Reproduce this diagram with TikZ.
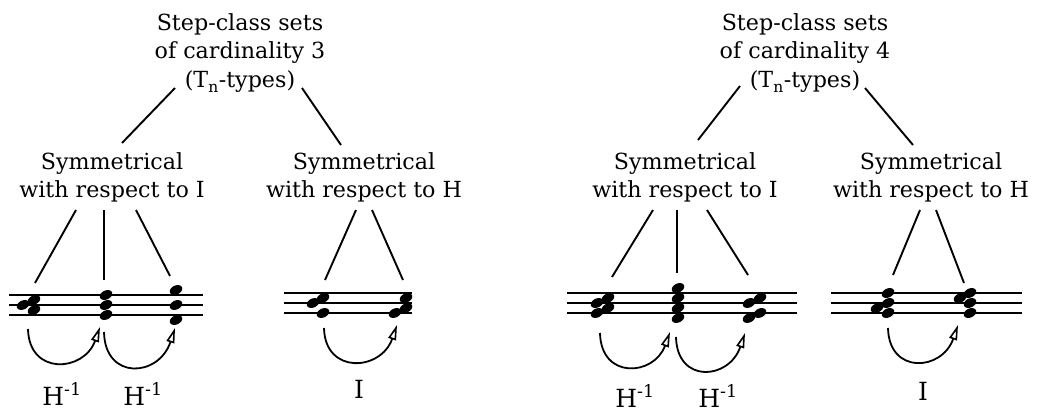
\documentclass[tikz,border=0pt]{standalone}
\usepackage{fontspec}
\setmainfont{DejaVu Serif}
\usetikzlibrary{arrows.meta}
\newcommand\nh[2]{\fill[rotate around={25:(#1,#2)}] (#1,#2) ellipse [x radius=6.6pt, y radius=4.5pt];}
\newcommand\staff[3]{\foreach \k in {0,1,2} {\draw[staffline] (#1,#3+10*\k) -- (#2,#3+10*\k);}}
\begin{document}
\begin{tikzpicture}[x=1pt,y=-1pt,
  txt/.style={align=center, inner sep=0pt, anchor=base, font=\fontsize{22.2}{28.5}\selectfont},
  lbl/.style={inner sep=0pt, anchor=base, font=\fontsize{25}{30}\selectfont},
  branch/.style={line width=1.9pt},
  staffline/.style={line width=1.4pt},
  move/.style={line width=1.8pt, -{Triangle[open,length=15pt,width=8pt,line width=1.6pt]}}]
\useasboundingbox (0,0) rectangle (1041,412);

% ---------- left group (cardinality 3) ----------
\node[txt] (topA) at (240,87) {Step-class sets\\of cardinality 3\\(T\raisebox{-0.25ex}{\textsubscript{n}}-types)};
\node[txt] (symIA) at (112,197.5) {Symmetrical\\with respect to I};
\node[txt] (symHA) at (364,197.5) {Symmetrical\\with respect to H};

\coordinate (tA1) at (175,88);  \coordinate (tA2) at (122,143);
\coordinate (tA3) at (302,88);  \coordinate (tA4) at (341,145);
\draw[branch] (tA1) -- (tA2);
\draw[branch] (tA3) -- (tA4);

\coordinate (iA1) at (76,210);  \coordinate (iA2) at (35,283);
\coordinate (iA3) at (104,210); \coordinate (iA4) at (104,280);
\coordinate (iA5) at (136,210); \coordinate (iA6) at (170,276);
\draw[branch] (iA1) -- (iA2);
\draw[branch] (iA3) -- (iA4);
\draw[branch] (iA5) -- (iA6);

\coordinate (hA1) at (356,210); \coordinate (hA2) at (325,280);
\coordinate (hA3) at (372,210); \coordinate (hA4) at (403,280);
\draw[branch] (hA1) -- (hA2);
\draw[branch] (hA3) -- (hA4);

\staff{9}{203}{295}
\nh{34}{300}\nh{23}{305}\nh{34}{310}
\nh{106}{295}\nh{106}{305}\nh{106}{315}
\nh{176}{290}\nh{176}{305}\nh{176}{320}

\staff{284}{412}{293}
\nh{323}{298}\nh{313}{303}\nh{323}{313}
\nh{406}{298}\nh{406}{308}\nh{395}{313}

\coordinate (aA1s) at (28,329);  \coordinate (aA1e) at (100,327);
\coordinate (aA2s) at (104,332); \coordinate (aA2e) at (175,328);
\coordinate (aBs) at (324,328);  \coordinate (aBe) at (397,325);
\draw[move] (aA1s) .. controls (29,376) and (84,372) .. (aA1e);
\draw[move] (aA2s) .. controls (105,381) and (159,377) .. (aA2e);
\draw[move] (aBs) .. controls (325,375) and (381,371) .. (aBe);

\node[lbl] (lA1) at (62,405) {H\textsuperscript{-1}};
\node[lbl] (lA2) at (143,405) {H\textsuperscript{-1}};
\node[lbl] (lB) at (359,398) {I};

% ---------- right group (cardinality 4) ----------
\node[txt] (topC) at (805,87) {Step-class sets\\of cardinality 4\\(T\raisebox{-0.25ex}{\textsubscript{n}}-types)};
\node[txt] (symIC) at (685,197.5) {Symmetrical\\with respect to I};
\node[txt] (symHC) at (931,197.5) {Symmetrical\\with respect to H};

\coordinate (tC1) at (740,86);  \coordinate (tC2) at (698,140);
\coordinate (tC3) at (865,88);  \coordinate (tC4) at (913,145);
\draw[branch] (tC1) -- (tC2);
\draw[branch] (tC3) -- (tC4);

\coordinate (iC1) at (653,210); \coordinate (iC2) at (612,277);
\coordinate (iC3) at (677,210); \coordinate (iC4) at (677,273);
\coordinate (iC5) at (707,210); \coordinate (iC6) at (748,275);
\draw[branch] (iC1) -- (iC2);
\draw[branch] (iC3) -- (iC4);
\draw[branch] (iC5) -- (iC6);

\coordinate (hC1) at (920,210); \coordinate (hC2) at (893,275);
\coordinate (hC3) at (936,210); \coordinate (hC4) at (964,283);
\draw[branch] (hC1) -- (hC2);
\draw[branch] (hC3) -- (hC4);

\staff{567}{797}{293}
\nh{608}{298}\nh{597}{303}\nh{608}{308}\nh{597}{313}
\nh{678}{288}\nh{678}{298}\nh{678}{308}\nh{678}{318}
\nh{760}{298}\nh{749}{303}\nh{760}{313}\nh{749}{318}

\staff{831}{1022}{293}
\nh{888}{293}\nh{888}{303}\nh{877}{308}\nh{888}{313}
\nh{970}{293}\nh{960}{298}\nh{970}{303}\nh{970}{313}

\coordinate (aC1s) at (600,333); \coordinate (aC1e) at (670,332);
\coordinate (aC2s) at (676,337); \coordinate (aC2e) at (745,333);
\coordinate (aDs) at (888,328);  \coordinate (aDe) at (958,325);
\draw[move] (aC1s) .. controls (601,380) and (654,376) .. (aC1e);
\draw[move] (aC2s) .. controls (677,384) and (729,380) .. (aC2e);
\draw[move] (aDs) .. controls (889,375) and (942,371) .. (aDe);

\node[lbl] (lC1) at (635,407) {H\textsuperscript{-1}};
\node[lbl] (lC2) at (718,407) {H\textsuperscript{-1}};
\node[lbl] (lD) at (923,400) {I};
\end{tikzpicture}
\end{document}
